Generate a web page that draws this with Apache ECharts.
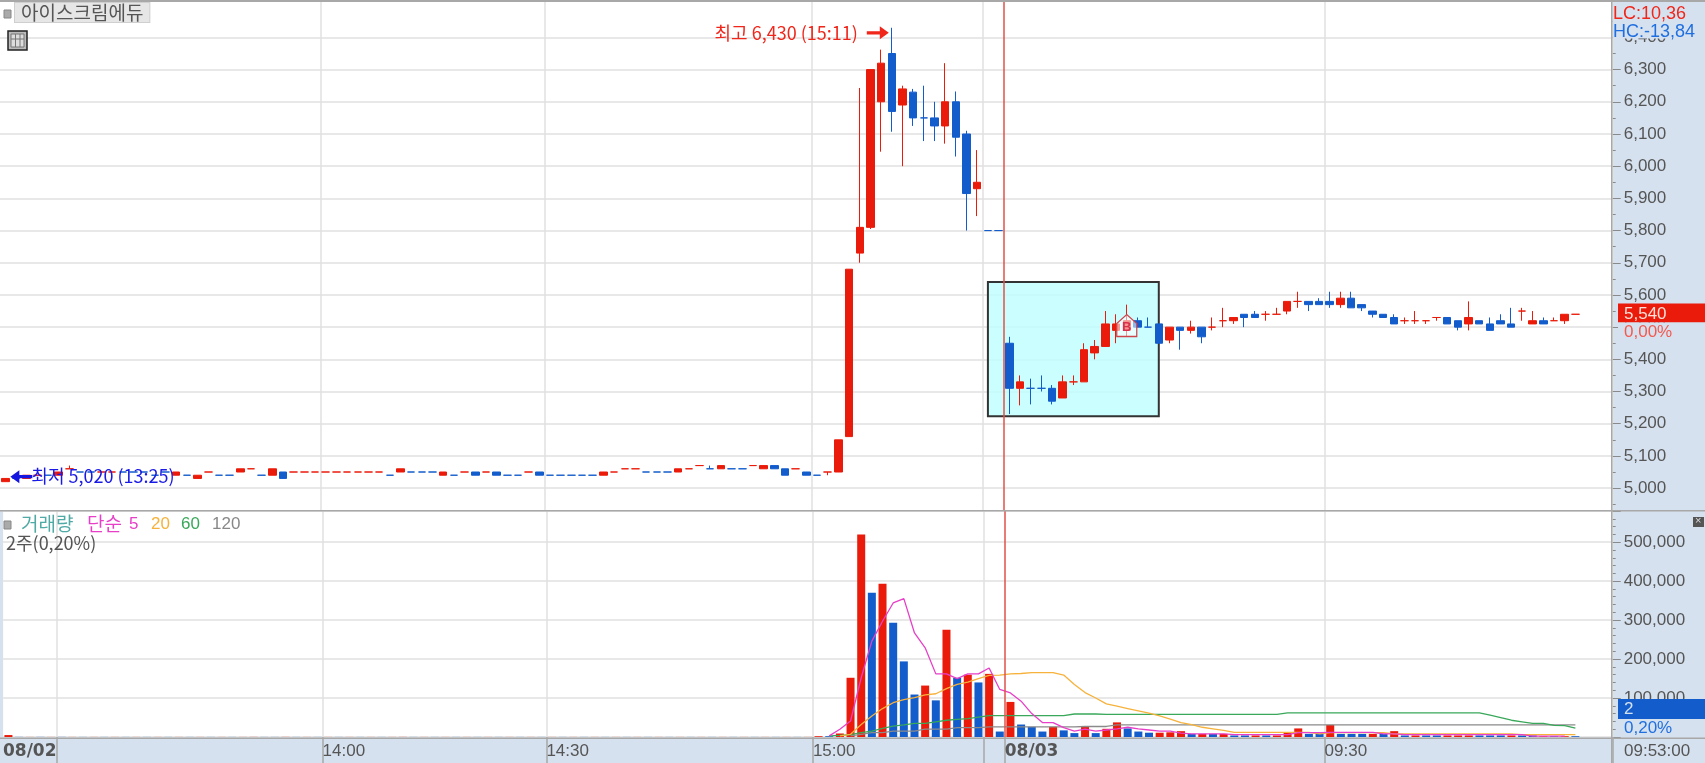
<!DOCTYPE html>
<html><head><meta charset="utf-8">
<style>html,body{margin:0;padding:0;background:#d6e1ef;overflow:hidden}#c{width:1705px;height:763px}</style>
<script src="https://cdn.jsdelivr.net/npm/echarts@6/dist/echarts.min.js"></script>
</head><body><div id="c"></div>
<script>
const slotCount = 151;
const gridSlots = [5,30,51,76,92,124];
const cursorSlot = 94;
const tickSlots = [5,30,51,76,92,94,124];
const tickNames = {29:'14:00',50:'14:30',75:'15:00',93:'{b|08/03}',123:'09:30'};
const dayOneLabelSlot = 2;
const priceTicks = [5000,5100,5200,5300,5400,5500,5600,5700,5800,5900,6000,6100,6200,6300,6400];
const priceMinorTicks = [4950,5050,5150,5250,5350,5450,5550,5650,5750,5850,5950,6050,6150,6250,6350,6450];
const opens = [5020,5030,5030,5040,5040,5040,5060,5050,5050,5050,5050,5050,5050,5050,5040,5050,5040,5040,5030,5050,5040,5040,5050,5060,5040,5040,5050,5050,5050,5050,5050,5050,5050,5050,5050,5050,5040,5050,
5050,5050,5050,5040,5040,5050,5050,5050,5050,5040,5040,5050,5050,5040,5040,5040,5040,5040,5040,5050,5060,5060,5050,5050,5050,5050,5060,5070,5060,5060,5060,5060,5070,5060,5070,5060,5060,5050,5040,5050,5050,
5160,5730,5810,6200,6350,6190,6230,6150,6150,6125,6200,6100,5930,5800,5800,
5450,5310,5310,5310,5310,5280,5330,5330,5420,5440,5490,5490,5520,5500,5510,5460,5500,5490,5500,5500,5520,5520,5540,5540,5540,5540,5550,5580,5580,5580,5580,5570,5590,5570,5550,5540,5530,5520,5520,5520,5530,5530,5520,5510,5520,5510,5520,5510,5550,5510,5520,5520,5520,5540];
const closes = [5030,5030,5040,5040,5040,5050,5060,5050,5050,5050,5050,5050,5050,5050,5040,5050,5050,5040,5040,5050,5040,5040,5060,5060,5040,5060,5030,5050,5050,5050,5050,5050,5050,5050,5050,5050,5040,5060,
5050,5050,5050,5050,5040,5050,5040,5050,5040,5040,5040,5050,5040,5040,5040,5040,5040,5040,5050,5050,5060,5060,5050,5050,5050,5060,5060,5070,5060,5070,5060,5060,5070,5070,5060,5040,5060,5040,5040,5050,5150,
5680,5810,6300,6320,6170,6240,6150,6150,6125,6200,6090,5915,5950,5800,5800,
5310,5330,5310,5310,5270,5330,5330,5430,5440,5510,5510,5520,5500,5500,5450,5500,5490,5500,5470,5500,5520,5530,5530,5530,5540,5540,5580,5580,5570,5570,5570,5590,5560,5560,5540,5530,5510,5520,5520,5520,5530,5510,5500,5530,5510,5490,5510,5500,5550,5520,5510,5520,5540,5540];
const lows = [5020,5030,5030,5040,5040,5040,5060,5050,5050,5050,5050,5050,5050,5050,5040,5050,5040,5040,5030,5050,5040,5040,5050,5060,5040,5040,5030,5050,5050,5050,5050,5050,5050,5050,5050,5050,5040,5050,
5050,5050,5050,5040,5040,5050,5040,5050,5040,5040,5040,5050,5040,5040,5040,5040,5040,5040,5040,5050,5060,5060,5050,5050,5050,5050,5060,5070,5060,5060,5060,5060,5070,5060,5060,5040,5060,5040,5040,5040,5050,
5160,5700,5805,6045,6107,6000,6125,6078,6078,6070,6030,5800,5845,5800,5800,
5230,5257,5260,5300,5260,5280,5320,5330,5400,5440,5450,5470,5500,5500,5450,5450,5430,5480,5450,5490,5500,5510,5500,5530,5520,5540,5540,5560,5550,5570,5560,5560,5560,5550,5530,5530,5510,5510,5510,5510,5520,5510,5490,5490,5510,5490,5510,5500,5520,5510,5510,5520,5510,5540];
const highs = [5030,5030,5040,5040,5040,5050,5070,5050,5050,5050,5050,5050,5050,5050,5040,5050,5050,5040,5040,5050,5040,5040,5060,5060,5040,5060,5050,5050,5050,5050,5050,5050,5050,5050,5050,5050,5040,5060,
5050,5050,5050,5050,5040,5050,5050,5050,5050,5040,5040,5050,5050,5040,5040,5040,5040,5040,5050,5050,5060,5060,5050,5050,5050,5060,5060,5070,5070,5070,5060,5060,5070,5070,5070,5060,5060,5050,5040,5050,5150,
5680,6243,6300,6362,6430,6250,6240,6250,6200,6320,6232,6110,6050,5800,5800,
5470,5350,5340,5350,5320,5350,5350,5450,5460,5550,5540,5570,5530,5530,5510,5500,5500,5520,5500,5530,5560,5530,5540,5550,5550,5560,5580,5610,5580,5590,5610,5610,5610,5570,5550,5540,5540,5530,5550,5520,5530,5530,5520,5580,5520,5530,5540,5560,5560,5550,5530,5530,5540,5540];
const candleUp = [1,0,1,1,0,1,1,0,0,1,1,0,0,0,0,0,1,0,1,1,0,0,1,1,0,1,0,1,1,1,1,1,1,1,1,1,0,1,
0,0,0,1,0,1,0,1,0,0,0,1,0,0,0,0,0,0,1,1,1,1,0,0,0,1,1,1,0,1,0,0,1,1,0,0,1,0,0,1,1,
1,1,1,1,0,1,0,0,0,1,0,0,1,0,0,
0,1,0,0,0,1,1,1,1,1,1,1,0,0,0,1,0,1,0,1,1,1,0,0,1,1,1,1,0,0,0,1,0,0,0,0,0,1,1,1,1,0,0,1,0,0,0,0,1,1,0,1,1,1];
const volumes = [5000,300,200,300,200,300,200,200,200,200,200,200,200,200,200,200,200,200,200,200,200,200,200,300,200,200,300,200,200,200,200,200,200,200,200,200,200,300,
200,200,200,200,200,200,200,200,200,200,200,200,200,200,200,200,200,200,200,200,200,200,200,200,200,200,200,200,200,200,200,200,200,200,200,200,200,200,2000,2000,9000,
152000,520000,370000,393000,293000,194000,109000,132000,94000,275000,152000,160000,140000,162000,14000,
90000,32000,26000,14000,26000,17000,10000,26000,10000,21000,37500,22000,14000,11000,11000,12000,15000,8000,8000,8000,8000,4000,4000,4000,4000,4000,12000,22000,8000,8000,31000,8000,8000,8000,8000,8000,15000,4000,4000,4000,4000,4000,4000,4000,4000,4000,4000,4000,4000,4000,2000,2000,2000,2000];
const volumeUp = [1,0,1,0,1,0,1,0,1,0,1,0,1,0,1,0,1,0,1,0,1,0,1,1,0,0,1,0,1,0,1,0,1,0,1,0,1,1,
0,1,0,1,0,1,0,1,0,1,0,1,0,1,0,1,0,1,0,1,0,1,0,1,0,1,0,1,0,1,0,1,0,1,0,1,0,1,1,0,1,
1,1,0,1,0,0,0,1,0,1,0,1,0,1,0,
1,0,0,0,1,0,0,1,0,1,1,0,0,0,1,1,1,0,1,0,1,0,0,1,0,1,1,1,0,0,1,0,0,0,1,0,1,0,1,0,0,1,1,1,0,0,0,1,0,0,1,0,1,0,0,0];
const ma5 = {77:3000,78:20000,79:41000,80:152000,81:246000,82:297000,83:344000,84:355000,85:267000,86:229000,87:162000,88:162000,89:150000,90:162000,91:162000,92:177000,93:122000,94:113000,95:92000,96:60000,97:37000,98:37000,99:24000,100:15000,101:20000,102:15000,103:18000,104:21000,105:25000,106:21000,107:18000,108:15000,109:15000,110:10000,111:8000,112:8000,113:8000,114:8000,115:6000,116:6000,117:6000,118:6000,119:6000,120:6000,121:11000,122:11000,123:11000,124:12000,125:12000,126:12000,127:12000,128:12000,129:8000,130:8000,131:6000,132:6000,133:6000,134:6000,135:6000,136:6000,137:6000,138:6000,139:6000,140:6000,141:6000,142:6000,143:2000,144:2000,145:2000,146:2000};
const ma20 = {78:3000,79:7000,80:32000,81:54000,82:73000,83:88000,84:96000,85:101000,86:108000,87:111000,88:124000,89:135000,90:141000,91:150000,92:158000,93:159000,94:162000,95:163000,96:165000,97:165000,98:165000,99:159000,100:135000,101:114000,102:100000,103:85000,104:79000,105:73000,106:67000,107:61000,108:54000,109:46000,110:37000,111:32000,112:25000,113:21000,114:17000,115:12000,116:12000,117:12000,118:12000,119:12000,120:12000,121:12000,122:12000,123:8000,124:11000,125:11000,126:11000,127:11000,128:11000,129:11000,130:8000,131:8000,132:8000,133:8000,134:8000,135:8000,136:8000,137:8000,138:8000,139:8000,140:8000,141:8000,142:6000,143:6000,144:6000,145:6000,146:6000,147:6000};
const ma60 = {77:3000,78:4000,79:6000,80:11000,81:15000,82:22000,83:28000,84:31000,85:35000,86:35000,87:39000,88:43000,89:45000,90:47000,91:51000,92:55000,93:55000,94:55000,95:55000,96:55000,97:55000,98:55000,99:55000,100:59000,101:59000,102:59000,103:58000,104:58000,105:58000,106:58000,107:58000,108:58000,109:58000,110:58000,111:58000,112:58000,113:58000,114:58000,115:58000,116:58000,117:58000,118:58000,119:58000,120:62000,121:62000,122:62000,123:62000,124:62000,125:62000,126:62000,127:62000,128:62000,129:62000,130:62000,131:62000,132:62000,133:62000,134:62000,135:62000,136:62000,137:62000,138:62000,139:56000,140:50000,141:43000,142:39000,143:35000,144:35000,145:30000,146:29000,147:23000};
const ma120 = {79:3000,80:7000,81:11000,82:11000,83:15000,84:15000,85:15000,86:20000,87:20000,88:20000,89:24000,90:24000,91:24000,92:26000,93:26000,94:26000,95:26000,96:26000,97:26000,98:26000,99:26000,100:26000,101:27000,102:27000,103:27000,104:31000,105:31000,106:31000,107:31000,108:31000,109:31000,110:31000,111:31000,112:31000,113:31000,114:31000,115:31000,116:31000,117:31000,118:31000,119:31000,120:31000,121:31000,122:31000,123:31000,124:31000,125:31000,126:31000,127:31000,128:31000,129:31000,130:31000,131:31000,132:31000,133:31000,134:31000,135:31000,136:31000,137:31000,138:31000,139:31000,140:31000,141:31000,142:31000,143:31000,144:31000,145:31000,146:31000,147:31000};

const RED='#ea1b0a',BLUE='#125ccc',GRID='#e1e1e1',TXT='#555555',EDGE='#a8a8a8',PANEL='#d6e1ef';
const NUM='"Liberation Sans",Arial,sans-serif', KR='"Noto Sans CJK KR","Noto Sans",sans-serif';
const categories=[];for(let i=0;i<slotCount;i++)categories.push(tickNames[i]||('#'+i));
function toSeries(m){const a=[];for(let i=0;i<slotCount;i++)a.push(m[i]===undefined?null:m[i]);return a;}
const candleData=opens.map((o,i)=>{const c=candleUp[i]?RED:BLUE;return {value:[o,closes[i],lows[i],highs[i]],itemStyle:{color:c,color0:c,borderColor:c,borderColor0:c,borderColorDoji:c,borderWidth:1}};});
const volumeData=volumes.map((v,i)=>({value:v,itemStyle:{color:volumeUp[i]?RED:BLUE}}));
const comma=v=>String(v).replace(/\B(?=(\d{3})+$)/g,',');
const base={type:'category',position:'bottom',data:categories,boundaryGap:true,axisLine:{show:false},axisTick:{show:false},axisLabel:{show:false}};
const hideLine={show:false};
const cursorLine={show:true,interval:i=>i===0||i===cursorSlot,lineStyle:{color:['transparent','#e0504a','transparent'],width:1.5}};
const gridLine={show:true,interval:i=>gridSlots.includes(i),lineStyle:{color:['transparent',GRID,GRID,GRID,GRID,GRID,GRID,'transparent'],width:1.5}};
const lowerGridLine={show:true,interval:i=>gridSlots.includes(i),lineStyle:{color:GRID,width:1.5}};
function maLine(name,d,color){return {name,type:'line',xAxisIndex:2,yAxisIndex:2,data:toSeries(d),showSymbol:false,symbol:'none',lineStyle:{color,width:1.3},z:4};}
const Z=50;
const smallBox=(x,y)=>({type:'rect',z:Z,shape:{x,y,width:7,height:8},style:{fill:'#aaa',stroke:'#888',lineWidth:1}});
const t=(x,y,text,fill,font)=>({type:'text',z:Z+1,style:{x,y,text,fill,font}});
const box=(x,y,width,height,fill)=>({type:'rect',z:Z,shape:{x,y,width,height},style:{fill}});
const seg=(x1,y1,x2,y2)=>({type:'line',z:Z+1,shape:{x1,y1,x2,y2},style:{stroke:'#777'}});
const option={
 backgroundColor:PANEL,animation:false,
 grid:[
  {left:0,top:2,width:1612.7,height:508,show:true,backgroundColor:'#fff',borderWidth:0},
  {left:0,top:511,width:1612.7,height:226,show:true,backgroundColor:'#fff',borderWidth:0}
 ],
 xAxis:[
  {...base,gridIndex:0,splitLine:gridLine},
  {...base,gridIndex:0,z:10,splitLine:cursorLine},
  {...base,gridIndex:1,splitLine:lowerGridLine,
   axisTick:{show:true,length:26,interval:i=>tickSlots.includes(i),lineStyle:{color:EDGE,width:1.5}},
   axisLabel:{show:true,interval:i=>tickNames[i]!==undefined,align:'left',padding:[0,0,0,5],margin:6,color:TXT,fontFamily:NUM,fontSize:17,formatter:v=>v,rich:{b:{fontFamily:'"DejaVu Sans"',fontWeight:'bold',fontSize:17,color:TXT}}}},
  {...base,gridIndex:1,z:10,splitLine:cursorLine},
  {...base,gridIndex:1,data:categories.map((c,i)=>i===dayOneLabelSlot?'08/02':c),axisLabel:{show:true,interval:i=>i===dayOneLabelSlot,align:'center',margin:6,color:TXT,fontFamily:'"DejaVu Sans"',fontWeight:'bold',fontSize:17}}
 ],
 yAxis:[
  {type:'value',gridIndex:0,position:'right',min:4932,max:6510,splitLine:{show:true,customValues:priceTicks,lineStyle:{color:GRID,width:1.5}},axisLine:hideLine,
   axisTick:{show:true,customValues:priceTicks,length:8,lineStyle:{color:'#8a8a8a'}},
   axisLabel:{show:true,customValues:priceTicks,showMinLabel:true,showMaxLabel:true,margin:11,color:TXT,fontFamily:NUM,fontSize:17,formatter:comma}},
  {type:'value',gridIndex:0,position:'right',min:4932,max:6510,splitLine:{show:false},axisLine:hideLine,
   axisTick:{show:true,customValues:priceMinorTicks,length:3,lineStyle:{color:'#8a8a8a'}},axisLabel:{show:false}},
  {type:'value',gridIndex:1,position:'right',min:0,max:580000,interval:100000,splitLine:{show:true,lineStyle:{color:GRID,width:1.5}},axisLine:hideLine,
   axisTick:{show:true,length:8,lineStyle:{color:'#8a8a8a'}},minorTick:{show:true,splitNumber:5,length:3,lineStyle:{color:'#8a8a8a'}},
   axisLabel:{show:true,showMinLabel:false,showMaxLabel:false,margin:11,color:TXT,fontFamily:NUM,fontSize:17,formatter:comma}}
 ],
 series:[
  {type:'candlestick',xAxisIndex:0,yAxisIndex:0,barWidth:8,data:candleData,z:3,
   markArea:{silent:true,z:2,itemStyle:{color:'rgba(190,255,255,0.8)',borderColor:'#333',borderWidth:2},data:[[{coord:[92,5640]},{coord:[107.85,5223]}]]},
   markPoint:{silent:true,z:6,data:[
    {coord:[83,6430],symbol:'path://M0,4.5 H13 V0 L22,6 L13,12 V7.5 H0 Z',symbolSize:[22,13],symbolOffset:[-14,5],itemStyle:{color:'#f0261a'},label:{show:false}},
    {coord:[83,6430],symbol:'circle',symbolSize:0,symbolOffset:[0,5],itemStyle:{color:'transparent'},label:{show:true,position:'left',distance:34,formatter:'최고 6,430 (15:11)',color:'#f0261a',fontFamily:KR,fontSize:18}},
    {coord:[0,5020],symbol:'path://M22,4.5 H9 V0 L0,6 L9,12 V7.5 H22 Z',symbolSize:[22,13],symbolOffset:[16,-5],itemStyle:{color:'#1515e0'},label:{show:false}},
    {coord:[0,5020],symbol:'circle',symbolSize:0,symbolOffset:[0,-6],itemStyle:{color:'transparent'},label:{show:true,position:'right',distance:26,formatter:'최저 5,020 (13:25)',color:'#1a1ae6',fontFamily:KR,fontSize:18}},
    {coord:[105,5505],symbol:'path://M0,9 L10,0 L20,9 V22 H0 Z',symbolSize:[20,22],itemStyle:{color:'rgba(255,255,255,0.55)',borderColor:'#d0434a',borderWidth:1.3},label:{show:true,position:'inside',offset:[0,2],formatter:'B',color:'#d8304a',fontFamily:NUM,fontWeight:'bold',fontSize:13}}
   ]}},
  {type:'bar',xAxisIndex:2,yAxisIndex:2,barWidth:8,data:volumeData,z:3},
  maLine('MA120',ma120,'#8a8a8a'),maLine('MA60',ma60,'#3aa85a'),maLine('MA20',ma20,'#f6b23b'),maLine('MA5',ma5,'#e83fc8')
 ],
 graphic:[
  box(0,0,1705,2,EDGE),
  box(0,510,1705,1.5,EDGE),
  box(0,737.5,1705,1.5,EDGE),
  box(1611,0,1.5,763,EDGE),
  smallBox(4,10),
  {type:'text',z:Z,style:{x:15,y:3,text:'아이스크림에듀',font:'19px '+KR,fill:TXT,backgroundColor:'#e6e6e6',borderColor:'#cfcfcf',borderWidth:1,padding:[0,6,0,6]}},
  {type:'rect',z:Z,shape:{x:8,y:31,width:19,height:19},style:{fill:'#bbb',stroke:'#222',lineWidth:1.5}},
  {type:'rect',z:Z,shape:{x:11,y:34,width:13,height:13},style:{fill:'#ddd',stroke:'#777',lineWidth:1}},
  seg(15.5,34,15.5,47),seg(20,34,20,47),seg(11,39,24,39),
  smallBox(4,521),
  t(21,514,'거래량','#4fa9a5','19px '+KR),
  t(87,514,'단순','#e83fc8','19px '+KR),
  t(129,516,'5','#e83fc8','17px '+NUM),
  t(151,516,'20','#f6b23b','17px '+NUM),
  t(181,516,'60','#3aa85a','17px '+NUM),
  t(212,516,'120','#888','17px '+NUM),
  t(6,534,'2주(0,20%)','#555','18px '+KR),
  box(1613,2,92,36.5,PANEL),
  t(1613,5,'LC:10,36','#f0261a','18px '+NUM),
  t(1613,23,'HC:-13,84','#1f6fe0','18px '+NUM),
  box(1618,303.5,87,19,RED),
  t(1624,306,'5,540','#ffe0d8','17px '+NUM),
  box(1618,322.5,87,17,PANEL),
  t(1624,324,'0,00%','#f25a50','17px '+NUM),
  box(1618,699,87,20,BLUE),
  t(1624,701,'2','#d6e1ef','17px '+NUM),
  t(1624,720,'0,20%','#1f6fe0','17px '+NUM),
  t(1624,743,'09:53:00',TXT,'17px '+NUM),
  box(1693,517,11,10,'#555'),
  t(1695,515,'×','#ddd','11px '+NUM)
 ]
};
const chart=echarts.init(document.getElementById('c'),null,{renderer:'canvas',width:1705,height:763});
chart.setOption(option);
</script></body></html>
